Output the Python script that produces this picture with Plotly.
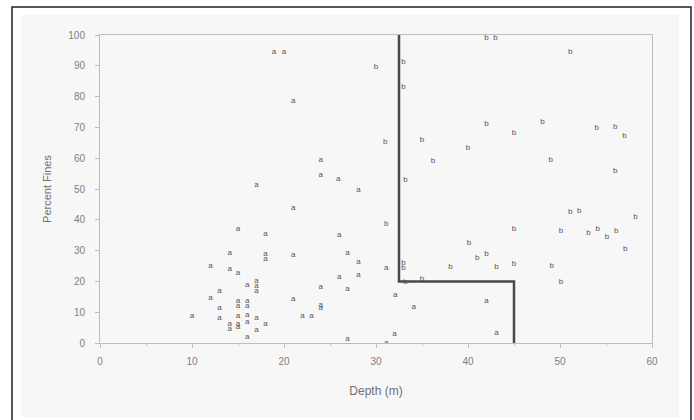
import plotly.graph_objects as go

# Group "a" samples (depth m, percent fines)
depth_a = [18.9, 20.0, 21.0, 24.0, 24.0, 25.9, 17.0, 28.1, 21.0, 15.0, 18.0, 26.0,
           14.1, 18.0, 18.0, 21.0, 26.9, 28.1, 31.1, 12.0, 14.1, 15.0, 28.1, 26.0,
           17.0, 17.0, 17.0, 16.0, 13.0, 24.0, 26.9, 12.0, 21.0, 15.0, 15.0, 16.0,
           16.0, 13.0, 24.0, 24.0, 10.0, 13.0, 15.0, 16.0, 16.0, 17.0, 22.0, 23.0,
           14.1, 14.1, 15.0, 15.0, 18.0, 17.0, 16.0, 26.9, 31.1, 32.1, 34.1, 42.0,
           32.0, 43.1]
fines_a = [94.5, 94.5, 78.5, 59.5, 54.5, 53.3, 51.2, 49.8, 43.7, 36.9, 35.4, 35.0,
           29.3, 28.9, 27.2, 28.6, 29.1, 26.2, 24.2, 25.1, 24.0, 22.6, 22.1, 21.3,
           20.1, 18.6, 16.9, 18.7, 17.0, 18.3, 17.6, 14.7, 14.2, 13.6, 12.1, 13.6,
           12.1, 11.5, 12.5, 11.5, 8.8, 8.0, 8.8, 9.2, 6.9, 8.0, 8.8, 8.8,
           6.2, 4.4, 6.2, 5.1, 6.1, 4.2, 2.0, 1.4, 0.0, 15.6, 11.7, 13.6,
           3.0, 3.1]

# Group "b" samples
depth_b = [30.0, 31.0, 31.1, 42.0, 43.0, 51.1, 33.0, 33.0, 42.0, 48.1, 54.0, 56.0,
           57.0, 45.0, 35.0, 40.0, 36.2, 49.0, 56.0, 33.2, 51.1, 52.1, 58.2, 45.0,
           50.1, 53.1, 54.1, 55.1, 56.1, 57.1, 40.1, 41.0, 42.0, 38.1, 43.1, 45.0,
           49.1, 50.1, 33.0, 33.0, 33.2, 35.0]
fines_b = [89.5, 65.4, 38.7, 98.9, 99.1, 94.6, 91.3, 83.2, 71.0, 71.6, 69.7, 70.2,
           67.2, 68.1, 65.9, 63.2, 59.1, 59.4, 55.8, 52.9, 42.4, 42.9, 41.0, 37.0,
           36.5, 35.6, 37.0, 34.3, 36.5, 30.5, 32.4, 27.5, 28.9, 24.8, 24.8, 25.5,
           25.0, 19.7, 26.0, 24.5, 19.9, 20.8]

# Boundary step line
boundary_x = [32.5, 32.5, 45, 45]
boundary_y = [100, 20, 20, 0]

x_ticks = [0, 10, 20, 30, 40, 50, 60]
y_ticks = [0, 10, 20, 30, 40, 50, 60, 70, 80, 90, 100]

fig = go.Figure()
fig.add_trace(go.Scatter(x=boundary_x, y=boundary_y, mode="lines",
                         line=dict(color="#4a4a4a", width=2.5), hoverinfo="skip"))
fig.add_trace(go.Scatter(x=depth_a, y=fines_a, mode="text", text=["a"] * len(depth_a),
                         textfont=dict(family="Liberation Sans", size=8, color="#555555")))
fig.add_trace(go.Scatter(x=depth_b, y=fines_b, mode="text", text=["b"] * len(depth_b),
                         textfont=dict(family="Liberation Sans", size=8, color="#555555")))

L, R, T, B = 100, 652, 35, 343
W, H = R - L, B - T
def px(v):
    return (v - L) / W
def py(v):
    return (B - v) / H

fig.update_layout(
    width=694, height=420,
    margin=dict(l=L, r=694 - R, t=T, b=420 - B),
    paper_bgcolor="white",
    plot_bgcolor="rgba(0,0,0,0)",
    showlegend=False,
    font=dict(family="Liberation Sans", color="#808080", size=10),
    shapes=[
        dict(type="rect", xref="paper", yref="paper", layer="below",
             x0=px(12), x1=px(691), y0=py(430), y1=py(7),
             line=dict(color="#222222", width=1.5), fillcolor="white"),
        dict(type="rect", xref="paper", yref="paper", layer="below",
             x0=px(21), x1=px(679), y0=py(417), y1=py(15),
             line=dict(width=0), fillcolor="#f7f7f7"),
    ],
)
fig.update_xaxes(range=[0, 60], tickvals=x_ticks, ticktext=[str(v) for v in x_ticks],
                 showgrid=False, zeroline=False, showline=True, linecolor="#bdbdbd",
                 linewidth=1, mirror=True, ticks="outside", ticklen=4, tickcolor="#bdbdbd",
                 minor=dict(dtick=5, ticks="outside", ticklen=2, tickcolor="#cccccc"),
                 ticklabelstandoff=5,
                 tickfont=dict(size=10, color="#808080"),
                 title=dict(text="Depth (m)", font=dict(size=12, color="#707070"), standoff=20))
fig.update_yaxes(range=[0, 100], tickvals=y_ticks, ticktext=[str(v) for v in y_ticks],
                 showgrid=False, zeroline=False, showline=True, linecolor="#bdbdbd",
                 linewidth=1, mirror=True, ticks="outside", ticklen=4, tickcolor="#bdbdbd",
                 ticklabelstandoff=8,
                 tickfont=dict(size=10, color="#808080"),
                 title=dict(text="Percent Fines", font=dict(size=11, color="#707070"), standoff=14))

fig.write_html("out.html", config={"displayModeBar": False},
               post_script="document.body.style.margin='0px';")
